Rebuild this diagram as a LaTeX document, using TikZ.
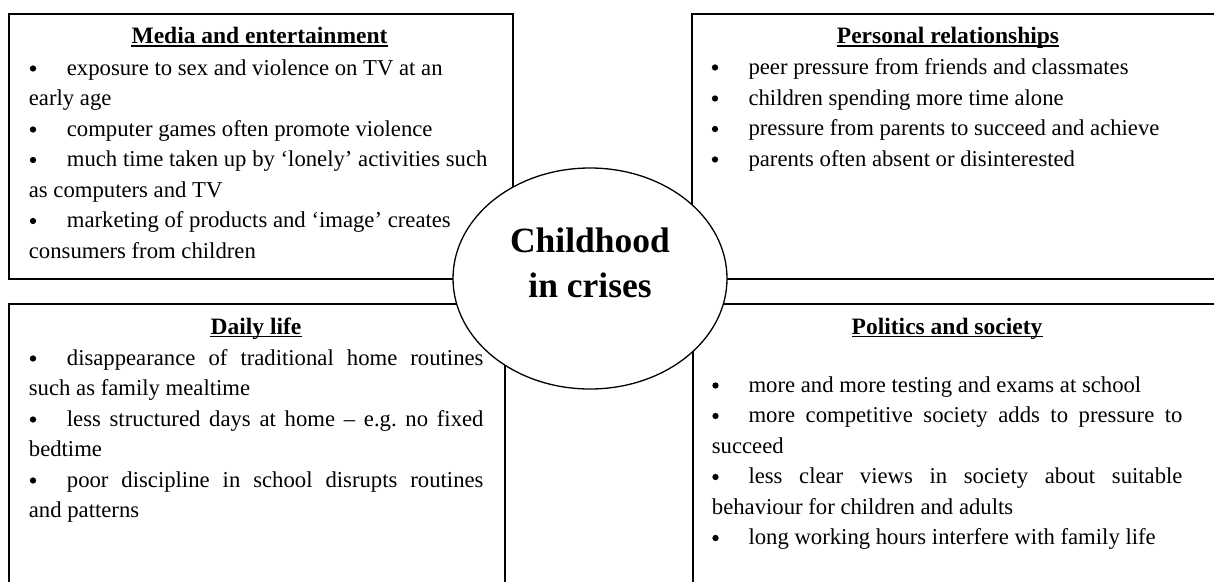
\documentclass[tikz,border=0pt]{standalone}
\usepackage{fontspec}
\setmainfont{Liberation Serif}
\usetikzlibrary{shapes.geometric}
\frenchspacing

\tikzset{
  panel/.style={draw, line width=1.6pt, rectangle, inner sep=0pt, anchor=north west},
  hub/.style={draw, ellipse, fill=white, line width=1.3pt, inner sep=0pt,
    minimum width=274pt, minimum height=221pt},
  hubtext/.style={anchor=base, inner sep=0pt, font=\fontsize{35.5}{40}\selectfont\bfseries},
  heading/.style={anchor=base, inner sep=0pt, font=\fontsize{23.5}{28}\selectfont\bfseries},
  uline/.style={line width=1.3pt},
  item/.style={anchor=base west, inner sep=0pt, font=\fontsize{22.7}{27}\selectfont},
  % bullet dot, placed by its baseline; the dot sits 6.5pt above it
  dot/.style={circle, fill=black, inner sep=0pt, minimum size=6.3pt, yshift=6.5pt},
}

\begin{document}
\begin{tikzpicture}[x=1pt, y=-1pt]
\useasboundingbox (0,0) rectangle (1214,581);
\clip (0,0) rectangle (1214,581);

% four panels
\node[panel, minimum width=504pt, minimum height=265pt] (media) at (8,13) {};
\node[panel, minimum width=523pt, minimum height=265pt] (personal) at (691,13) {};
\node[panel, minimum width=496pt, minimum height=297pt] (daily) at (8,303) {};
\node[panel, minimum width=522pt, minimum height=297pt] (politics) at (692,303) {};

% central ellipse
\node[hub] (hub) at (590,278.5) {};
\node[hubtext] (hubA) at (590,252.5) {Childhood};
\node[hubtext] (hubB) at (590,297) {in crises};

% headings
\node[heading] (hMedia) at (259.5,43.5) {Media and entertainment};
\node[heading] (hPersonal) at (948,43.5) {Personal relationships};
\node[heading] (hDaily) at (256,334) {Daily life};
\node[heading] (hPolitics) at (947,334) {Politics and society};
\foreach \h in {hMedia,hPersonal,hDaily,hPolitics}
  \draw[uline] ([yshift=-2.5pt]\h.base west) -- ([yshift=-2.5pt]\h.base east);

% media and entertainment
\node[dot] (m1b) at (33,75) {};
\node[item] (m1) at (66.7,75) {exposure to sex and violence on TV at an};
\node[item] (m1c) at (28.7,105.5) {early age};
\node[dot] (m2b) at (33,136) {};
\node[item] (m2) at (66.7,136) {computer games often promote violence};
\node[dot] (m3b) at (33,166.5) {};
\node[item] (m3) at (66.7,166.5) {much time taken up by ‘lonely’ activities such};
\node[item] (m3c) at (28.7,197) {as computers and TV};
\node[dot] (m4b) at (33,227.5) {};
\node[item] (m4) at (66.7,227.5) {marketing of products and ‘image’ creates};
\node[item] (m4c) at (28.7,258) {consumers from children};

% personal relationships
\node[dot] (p1b) at (715,74) {};
\node[item] (p1) at (748.3,74) {peer pressure from friends and classmates};
\node[dot] (p2b) at (715,105) {};
\node[item] (p2) at (748.3,105) {children spending more time alone};
\node[dot] (p3b) at (715,135.5) {};
\node[item] (p3) at (748.3,135.5) {pressure from parents to succeed and achieve};
\node[dot] (p4b) at (715,166) {};
\node[item] (p4) at (748.3,166) {parents often absent or disinterested};

% daily life
\node[dot] (d1b) at (33,365) {};
\node[item] (d1) at (66.7,365) {\makebox[416.6pt][s]{disappearance of traditional home routines}};
\node[item] (d1c) at (28.7,395.5) {such as family mealtime};
\node[dot] (d2b) at (33,426) {};
\node[item] (d2) at (66.7,426) {\makebox[416.6pt][s]{less structured days at home – e.g. no fixed}};
\node[item] (d2c) at (28.7,456.5) {bedtime};
\node[dot] (d3b) at (33,487) {};
\node[item] (d3) at (66.7,487) {\makebox[416.6pt][s]{poor discipline in school disrupts routines}};
\node[item] (d3c) at (28.7,517.5) {and patterns};

% politics and society
\node[dot] (s1b) at (715.5,392) {};
\node[item] (s1) at (748.3,392) {more and more testing and exams at school};
\node[dot] (s2b) at (715.5,422.5) {};
\node[item] (s2) at (748.3,422.5) {\makebox[434pt][s]{more competitive society adds to pressure to}};
\node[item] (s2c) at (711.7,453) {succeed};
\node[dot] (s3b) at (715.5,483.5) {};
\node[item] (s3) at (748.3,483.5) {\makebox[434pt][s]{less clear views in society about suitable}};
\node[item] (s3c) at (711.7,514) {behaviour for children and adults};
\node[dot] (s4b) at (715.5,544.5) {};
\node[item] (s4) at (748.3,544.5) {long working hours interfere with family life};
\end{tikzpicture}
\end{document}
